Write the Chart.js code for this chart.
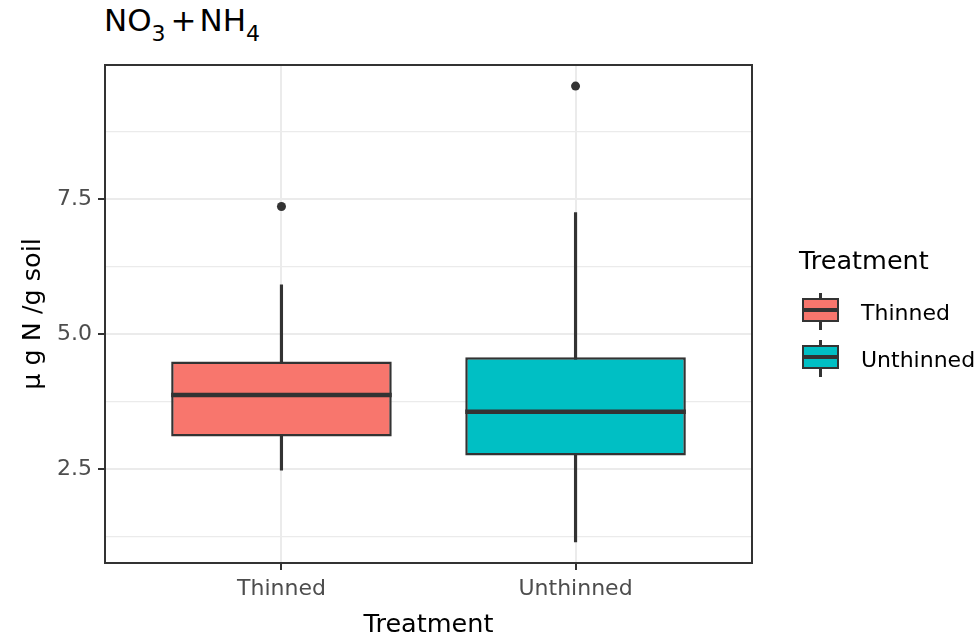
<!DOCTYPE html>
<html>
<head>
<meta charset="utf-8">
<script src="https://cdn.jsdelivr.net/npm/chart.js@4/dist/chart.umd.min.js"></script>
<style>
  html, body { margin: 0; padding: 0; background: #fff; }
  body { width: 977px; height: 643px; position: relative; overflow: hidden;
         font-family: "DejaVu Sans", sans-serif; }
  #wrap { position: absolute; left: 0; top: 0; width: 977px; height: 643px; }
  #title { position: absolute; left: 104px; top: 2px; font-size: 31px; color: #000; white-space: nowrap; }
  #title sub { font-size: 22px; vertical-align: -10px; line-height: 0; }
  #title .op { margin: 0 3px 0 5px; }
  .lg-title { position: absolute; left: 799px; top: 245px; font-size: 25.5px; color: #000; }
  .lg-item { position: absolute; left: 800px; height: 40px; width: 177px; }
  .lg-key { position: absolute; left: 2px; top: 5px; width: 33px; height: 20px;
            border: 2.5px solid #333; }
  .lg-key .med { position: absolute; left: 0; right: 0; top: 8px; height: 4px; background: #333; }
  .lg-wh { position: absolute; left: 19px; top: 0; width: 2.5px; height: 37px; background: #333; }
  .lg-label { position: absolute; left: 61px; top: 7px; font-size: 22px; color: #000; }
</style>
</head>
<body>
<div id="title">NO<sub>3</sub><span class="op">+</span>NH<sub>4</sub></div>
<div id="wrap"><canvas id="chart" width="977" height="643"></canvas></div>
<div id="legend"></div>

<script>
// ── data ────────────────────────────────────────────────────────────────────
const CATEGORIES = ['Thinned', 'Unthinned'];
const WHISKER_LO = [2.48, 1.15];
const Q1         = [3.10, 2.75];
const MEDIAN     = [3.87, 3.56];
const Q3         = [4.49, 4.57];
const WHISKER_HI = [5.91, 7.25];
const OUTLIERS   = [[7.36], [9.59]];
const Y_TICKS    = [2.5, 5.0, 7.5];
const Y_MINOR    = [1.25, 3.75, 6.25, 8.75];

const FILLS = ['#F8766D', '#00BFC4'];
const DARK = '#333333';
const BOX_WIDTH = 0.75;   // in category units, like ggplot

const xs = CATEGORIES.map((_, i) => i + 1);

// median segments, broken by a null point between the categories
const medianPts = [];
xs.forEach((x, i) => {
  if (i > 0) medianPts.push({ x: x - 0.5, y: null });
  medianPts.push({ x: x - BOX_WIDTH / 2, y: MEDIAN[i] });
  medianPts.push({ x: x + BOX_WIDTH / 2, y: MEDIAN[i] });
});

const outlierPts = [];
OUTLIERS.forEach((list, i) => list.forEach(v => outlierPts.push({ x: xs[i], y: v })));

// panel border like theme_bw
const panelBorder = {
  id: 'panelBorder',
  afterDatasetsDraw(chart) {
    const { ctx, chartArea: a } = chart;
    ctx.save();
    ctx.strokeStyle = DARK;
    ctx.lineWidth = 2;
    ctx.strokeRect(a.left, a.top, a.right - a.left, a.bottom - a.top);
    ctx.restore();
  },
};

const tickFont = { family: "'DejaVu Sans', sans-serif", size: 22 };
const titleFont = { family: "'DejaVu Sans', sans-serif", size: 25.5 };

new Chart(document.getElementById('chart'), {
  type: 'bar',
  data: {
    datasets: [
      {
        type: 'scatter',
        data: outlierPts,
        pointRadius: 4.5,
        pointBackgroundColor: DARK,
        pointBorderWidth: 0,
        order: 0,
      },
      {
        type: 'line',
        data: medianPts,
        borderColor: DARK,
        borderWidth: 4.5,
        pointRadius: 0,
        spanGaps: false,
        order: 1,
      },
      {
        data: xs.map((x, i) => ({ x, y: [Q1[i], Q3[i]] })),
        backgroundColor: FILLS,
        borderColor: DARK,
        borderWidth: 2.5,
        borderSkipped: false,
        categoryPercentage: BOX_WIDTH,
        barPercentage: 1,
        grouped: false,
        order: 2,
      },
      {
        data: xs.map((x, i) => ({ x, y: [WHISKER_LO[i], WHISKER_HI[i]] })),
        backgroundColor: DARK,
        barThickness: 2.5,
        grouped: false,
        order: 3,
      },
    ],
  },
  options: {
    responsive: false,
    animation: false,
    layout: { padding: { top: 65, right: 225, left: 0, bottom: 0 } },
    plugins: { legend: { display: false }, tooltip: { enabled: false } },
    scales: {
      x: {
        type: 'linear',
        offset: false,
        min: 0.4,
        max: 2.6,
        afterBuildTicks: (s) => { s.ticks = xs.map(v => ({ value: v })); },
        afterFit: (s) => { s.height = 80; },
        border: { display: false },
        grid: { offset: false, color: '#ebebeb', lineWidth: 2, tickLength: 7, tickColor: DARK, tickWidth: 2 },
        ticks: {
          font: tickFont,
          color: '#4d4d4d',
          padding: 6,
          maxRotation: 0,
          callback: (v) => CATEGORIES[v - 1],
        },
        title: { display: true, text: 'Treatment', font: titleFont, color: '#000',
                 padding: { top: 0, bottom: 2 } },
      },
      y: {
        min: 0.76,
        max: 9.98,
        afterBuildTicks: (s) => {
          s.ticks = [...Y_MINOR, ...Y_TICKS].sort((a, b) => a - b).map(v => ({ value: v }));
        },
        afterFit: (s) => { s.width = 105; },
        border: { display: false },
        grid: {
          color: '#ebebeb',
          lineWidth: (c) => (Y_TICKS.includes(c.tick.value) ? 2 : 1.3),
          tickLength: 7,
          tickColor: (c) => (Y_TICKS.includes(c.tick.value) ? DARK : 'rgba(0,0,0,0)'),
          tickWidth: 2,
        },
        ticks: {
          font: tickFont,
          color: '#4d4d4d',
          padding: 6,
          callback: (v) => (Y_TICKS.includes(v) ? v.toFixed(1) : ''),
        },
        title: { display: true, text: 'µ g N /g soil', font: titleFont, color: '#000',
                 padding: { top: 18, bottom: 0 } },
      },
    },
  },
  plugins: [panelBorder],
});

// legend in ggplot style
const legend = document.getElementById('legend');
legend.innerHTML = '<div class="lg-title">Treatment</div>' +
  CATEGORIES.map((c, i) =>
    `<div class="lg-item" style="top:${293 + i * 47}px">` +
      `<div class="lg-wh"></div>` +
      `<div class="lg-key" style="background:${FILLS[i]}"><div class="med"></div></div>` +
      `<div class="lg-label">${c}</div>` +
    `</div>`).join('');
</script>
</body>
</html>
